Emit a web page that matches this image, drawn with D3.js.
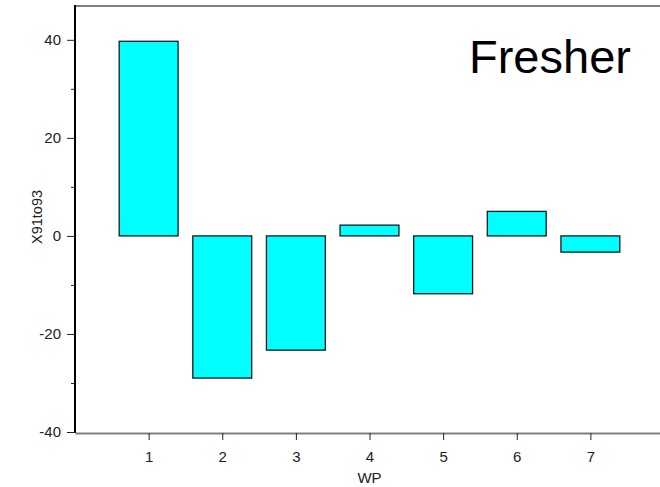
<!DOCTYPE html>
<html><head><meta charset="utf-8">
<script src="https://cdn.jsdelivr.net/npm/d3@7"></script>
<style>body{margin:0;background:#fff}svg{display:block}text{font-family:"Liberation Sans",Arial,sans-serif}</style>
</head><body><svg id="c" width="660" height="487"></svg>
<script>
const categories = [1, 2, 3, 4, 5, 6, 7];
const values = [39.7, -29.0, -23.3, 2.2, -11.8, 5.0, -3.3];
const yMajorTicks = [-40, -20, 0, 20, 40];
const yMinorTicks = [-30, -10, 10, 30];
const xLabel = "WP", yLabel = "X91to93", title = "Fresher";

(function () {
const svg = d3.select("#c");
const pL = 75, pT = 6, pB = 432, pR = 664;
const x = d3.scaleLinear().domain([0, 8]).range([pL, pR]);
const y = d3.scaleLinear().domain([-40, 46.9]).range([pB, pT]);
const bw = (x(1) - x(0)) * 0.8;

svg.selectAll("rect.bar").data(categories).enter().append("rect")
  .attr("class", "bar")
  .attr("x", (d) => x(d) - bw / 2)
  .attr("width", bw)
  .attr("y", (d, i) => y(Math.max(0, values[i])))
  .attr("height", (d, i) => Math.abs(y(values[i]) - y(0)))
  .attr("fill", "#00ffff").attr("stroke", "#1a1a1a").attr("stroke-width", 1.3);

// top border
svg.append("line").attr("x1", pL).attr("x2", pR).attr("y1", pT).attr("y2", pT)
  .attr("stroke", "#808080").attr("stroke-width", 2);

const fmt = (d) => String(d);
// x axis
const xa = svg.append("g").attr("transform", `translate(0,${pB + 1})`)
  .call(d3.axisBottom(x).tickValues(categories).tickSize(7).tickPadding(11).tickSizeOuter(0).tickFormat(fmt));
xa.select(".domain").attr("stroke", "#808080").attr("stroke-width", 2);
xa.selectAll(".tick line").attr("stroke", "#222");
xa.selectAll("text").attr("font-size", 15).attr("fill", "#222").attr("font-family", "Liberation Sans, Arial, sans-serif");

// y axis
const ya = svg.append("g").attr("transform", `translate(${pL},0)`)
  .call(d3.axisLeft(y).tickValues(yMajorTicks).tickSize(8).tickPadding(6).tickSizeOuter(0).tickFormat(fmt));
ya.select(".domain").attr("stroke", "#000").attr("stroke-width", 2).attr("d", `M0,${pT - 1}V${pB + 1}`);
ya.selectAll(".tick line").attr("stroke", "#222");
ya.selectAll("text").attr("font-size", 15).attr("fill", "#222").attr("font-family", "Liberation Sans, Arial, sans-serif");
const ym = svg.append("g").attr("transform", `translate(${pL},0)`)
  .call(d3.axisLeft(y).tickValues(yMinorTicks).tickSize(4).tickFormat(""));
ym.select(".domain").remove();
ym.selectAll(".tick line").attr("stroke", "#222");

svg.append("text").attr("x", x(4)).attr("y", 483).attr("text-anchor", "middle")
  .attr("font-size", 15).attr("fill", "#222").text(xLabel);
svg.append("text").attr("transform", `translate(42,217) rotate(-90)`).attr("text-anchor", "middle")
  .attr("font-size", 14.5).attr("fill", "#222").text(yLabel);
svg.append("text").attr("x", 469).attr("y", 73).attr("font-size", 47).attr("fill", "#000").text(title);
})();
</script></body></html>
